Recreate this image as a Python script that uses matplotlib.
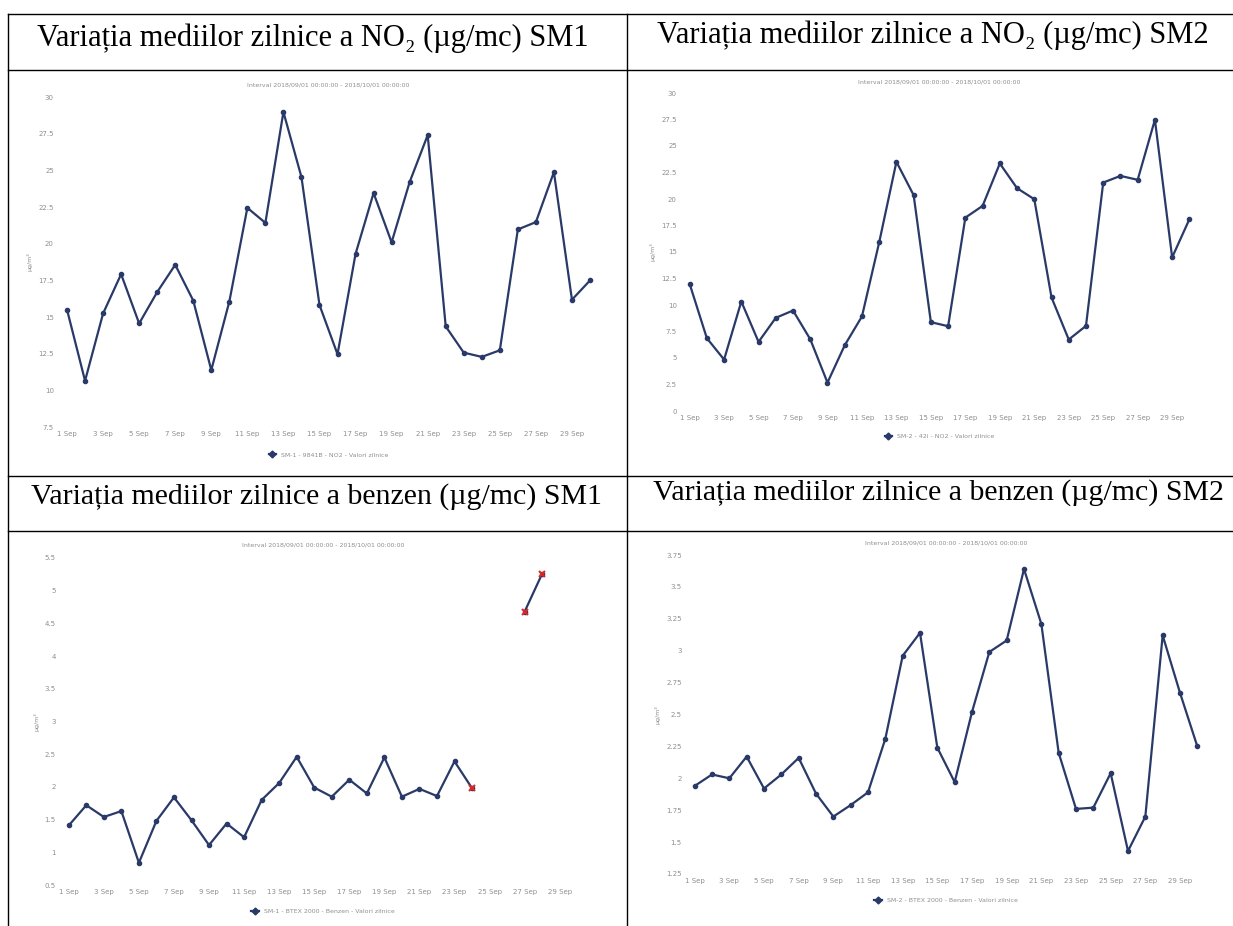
import matplotlib
matplotlib.use("Agg")
import matplotlib.pyplot as plt
from matplotlib.lines import Line2D
import numpy as np

# daily means, September 2018
days = np.arange(1, 31)

no2_sm1 = [15.5, 10.65, 15.24, 17.92, 14.56, 16.7, 18.56, 16.12, 11.38, 16.05,
           22.44, 21.42, 28.98, 24.54, 15.82, 12.46, 19.3, 23.45, 20.09, 24.2,
           27.4, 14.36, 12.57, 12.28, 12.73, 20.97, 21.47, 24.88, 16.18, 17.49]

no2_sm2 = [12.0, 6.87, 4.85, 10.33, 6.52, 8.79, 9.48, 6.77, 2.68, 6.2,
           8.92, 15.91, 23.51, 20.36, 8.38, 8.0, 18.24, 19.35, 23.35, 21.02,
           19.98, 10.71, 6.74, 8.03, 21.55, 22.18, 21.81, 27.48, 14.49, 18.09]

nan = np.nan
benzen_sm1 = [1.41, 1.72, 1.54, 1.63, 0.84, 1.48, 1.84, 1.49, 1.11, 1.44,
              1.23, 1.80, 2.06, 2.46, 1.99, 1.85, 2.11, 1.90, 2.45, 1.85,
              1.97, 1.86, 2.39, 1.98, nan, nan, 4.68, 5.26, nan, nan]
benzen_sm1_flagged = [24, 27, 28]

benzen_sm2 = [1.94, 2.03, 2.00, 2.17, 1.92, 2.03, 2.16, 1.88, 1.70, 1.79,
              1.89, 2.31, 2.96, 3.14, 2.24, 1.97, 2.52, 2.99, 3.08, 3.64,
              3.21, 2.20, 1.76, 1.77, 2.04, 1.43, 1.70, 3.12, 2.67, 2.25]

tick_days = list(range(1, 30, 2))
tick_labels = ["%d Sep" % d for d in tick_days]

headers = ["Variația mediilor zilnice a NO₂ (µg/mc) SM1",
           "Variația mediilor zilnice a NO₂ (µg/mc) SM2",
           "Variația mediilor zilnice a benzen (µg/mc) SM1",
           "Variația mediilor zilnice a benzen (µg/mc) SM2"]
legends = ["SM-1 - 9841B - NO2 - Valori zilnice",
           "SM-2 - 42i - NO2 - Valori zilnice",
           "SM-1 - BTEX 2000 - Benzen - Valori zilnice",
           "SM-2 - BTEX 2000 - Benzen - Valori zilnice"]
interval = "Interval 2018/09/01 00:00:00 - 2018/10/01 00:00:00"

W, H = 1233, 926
fig = plt.figure(figsize=(W / 100, H / 100), dpi=100)
fig.patch.set_facecolor("white")

def fx(px):
    return px / W

def fy(py):
    return 1 - py / H

def hline(y, x0, x1):
    fig.add_artist(Line2D([fx(x0), fx(x1)], [fy(y), fy(y)], color="black", lw=1.0))

def vline(x, y0, y1):
    fig.add_artist(Line2D([fx(x), fx(x)], [fy(y0), fy(y1)], color="black", lw=1.0))

# table grid
hline(14, 8, W)
hline(70, 8, W)
hline(476, 8, W)
hline(531, 8, W)
vline(8, 14, H)
vline(627, 14, H)

serif = ["Liberation Serif", "DejaVu Serif"]
fig.text(fx(313), fy(38), headers[0], family=serif, fontsize=22, ha="center", va="center")
fig.text(fx(933), fy(35), headers[1], family=serif, fontsize=22, ha="center", va="center")
fig.text(fx(316), fy(497), headers[2], family=serif, fontsize=21.5, ha="center", va="center")
fig.text(fx(938), fy(493), headers[3], family=serif, fontsize=21.5, ha="center", va="center")

navy = "#2a3a68"
grey = "#8f8f8f"

def make_chart(box, ylim, yticks, values, legend, title_y, legend_y):
    left, top, right, bottom = box
    ax = fig.add_axes([fx(left), fy(bottom), fx(right) - fx(left), fy(top) - fy(bottom)])
    ax.plot(days, values, color=navy, lw=1.6, marker="o", ms=3)
    ax.set_xlim(0.5, 30.5)
    ax.set_ylim(*ylim)
    ax.set_xticks(tick_days)
    ax.set_xticklabels(tick_labels)
    ax.set_yticks(yticks)
    ax.set_yticklabels([("%g" % t) for t in yticks])
    ax.tick_params(length=0, labelsize=5, labelcolor=grey, pad=3)
    for s in ax.spines.values():
        s.set_visible(False)
    ax.set_ylabel("µg/m³", fontsize=4.5, color=grey, labelpad=4)
    cx = (left + right) / 2
    fig.text(fx(cx), fy(title_y), interval, fontsize=4.5, color=grey, ha="center", va="center")
    handle = Line2D([], [], color=navy, lw=1.6, marker="D", ms=3.5)
    ax.legend([handle], [legend], loc="center",
              bbox_to_anchor=(0.5, (fy(legend_y) - fy(bottom)) / (fy(top) - fy(bottom))),
              frameon=False, fontsize=4.5, labelcolor=grey, handlelength=1.2)
    return ax

make_chart((58, 97, 599, 427), (7.5, 30), np.arange(7.5, 30.1, 2.5), no2_sm1,
           legends[0], 85, 455)
make_chart((681, 93, 1198, 411), (0, 30), np.arange(0, 30.1, 2.5), no2_sm2,
           legends[1], 82, 436)
ax3 = make_chart((60, 558, 586, 885), (0.5, 5.5), np.arange(0.5, 5.6, 0.5), benzen_sm1,
                 legends[2], 545, 911)
flag_idx = [d - 1 for d in benzen_sm1_flagged]
ax3.plot([days[i] for i in flag_idx], [benzen_sm1[i] for i in flag_idx],
         ls="none", marker="x", color="#d62a2a", ms=4, mew=1.5)
make_chart((686, 555, 1206, 874), (1.25, 3.75), np.arange(1.25, 3.76, 0.25), benzen_sm2,
           legends[3], 543, 900)

fig.savefig("out.png", dpi=100)
